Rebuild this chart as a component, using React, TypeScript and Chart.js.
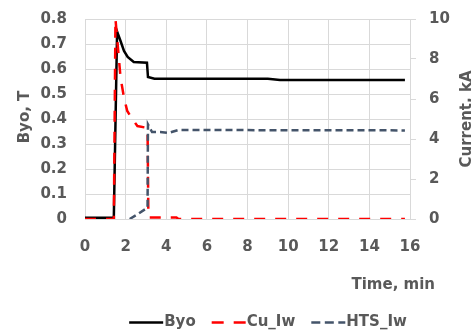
import React, { useEffect, useRef } from "react";
import { Chart, registerables } from "chart.js";

Chart.register(...registerables);

// ---- data ----
const xTicks = [0, 2, 4, 6, 8, 10, 12, 14, 16];
const leftTickMax = 0.8;
const rightTickMax = 10;

const byoTime = [0, 1.4, 1.42, 1.58, 1.75, 1.92, 2.1, 2.4, 3.05, 3.1, 3.42, 9.0, 9.6, 15.75];
const byoValues = [0.005, 0.005, 0.01, 0.75, 0.712, 0.672, 0.648, 0.628, 0.625, 0.568, 0.561, 0.561, 0.556, 0.556];

const cuTime = [0, 1.42, 1.5, 1.75, 1.92, 2.08, 2.33, 2.58, 3.08, 3.12, 4.5, 4.6, 15.75];
const cuValues = [0, 0, 10.0, 7.07, 6.07, 5.4, 5.0, 4.65, 4.55, 0.08, 0.08, 0, 0];

const htsTime = [2.2, 2.58, 3.08, 3.1, 3.3, 3.7, 4.1, 4.6, 15.75];
const htsValues = [0, 0.23, 0.57, 4.73, 4.35, 4.35, 4.3, 4.45, 4.43];

const seriesLabels = ["Byo", "Cu_Iw", "HTS_Iw"];
const xTitle = "Time, min";
const leftTitle = "Byo, T";
const rightTitle = "Current, kA";

const TEXT = "#595959";
const GRID = "#D9D9D9";
const FONT_FAMILY = '"DejaVu Sans", sans-serif';

const zip = (xs: number[], ys: number[]) => xs.map((x, i) => ({ x, y: ys[i] }));

const noPad = (s: any) => {
  s.paddingTop = 0;
  s.paddingBottom = 0;
  s.paddingLeft = 0;
  s.paddingRight = 0;
};

const overlayPlugin = {
  id: "overlay",
  afterDraw(chart: any) {
    const { ctx, chartArea } = chart;
    ctx.save();
    ctx.fillStyle = TEXT;
    ctx.font = `700 15px ${FONT_FAMILY}`;
    // left title
    ctx.save();
    ctx.translate(25, 117);
    ctx.rotate(-Math.PI / 2);
    ctx.textAlign = "center";
    ctx.textBaseline = "middle";
    ctx.fillText(leftTitle, 0, 0);
    ctx.restore();
    // right title
    ctx.save();
    ctx.translate(chartArea.right + 57, 119);
    ctx.rotate(-Math.PI / 2);
    ctx.textAlign = "center";
    ctx.textBaseline = "middle";
    ctx.fillText(rightTitle, 0, 0);
    ctx.restore();
    // x title
    ctx.textAlign = "right";
    ctx.textBaseline = "middle";
    ctx.fillText(xTitle, chartArea.right + 25, 285);

    // legend
    const lineW = 34;
    const gapText = 1;
    const gapItem = 16;
    const items = chart.data.datasets.map((ds: any) => ({
      ds,
      tw: ctx.measureText(ds.label).width,
    }));
    const total =
      items.reduce((s: number, it: any) => s + lineW + gapText + it.tw, 0) +
      gapItem * (items.length - 1);
    let x = 268 - total / 2;
    const y = 322.5;
    items.forEach((it: any) => {
      ctx.save();
      ctx.strokeStyle = it.ds.borderColor;
      ctx.lineWidth = it.ds.borderWidth;
      ctx.setLineDash(it.ds.legendDash || []);
      ctx.beginPath();
      ctx.moveTo(x, y);
      ctx.lineTo(x + lineW, y);
      ctx.stroke();
      ctx.restore();
      x += lineW + gapText;
      ctx.textAlign = "left";
      ctx.textBaseline = "middle";
      ctx.fillStyle = TEXT;
      ctx.fillText(it.ds.label, x, y);
      x += it.tw + gapItem;
    });
    ctx.restore();
  },
};

export default function App() {
  const ref = useRef<HTMLCanvasElement | null>(null);
  useEffect(() => {
    document.body.style.margin = "0";
    const canvas = ref.current!;
    const chart = new Chart(canvas, {
      type: "line",
      data: {
        datasets: [
          {
            label: seriesLabels[0],
            data: zip(byoTime, byoValues),
            yAxisID: "y",
            borderColor: "#000000",
            backgroundColor: "#000000",
            borderWidth: 2.5,
            pointRadius: 0,
            order: 3,
          } as any,
          {
            label: seriesLabels[1],
            data: zip(cuTime, cuValues),
            yAxisID: "y1",
            borderColor: "#FF0000",
            backgroundColor: "#FF0000",
            borderWidth: 2.5,
            borderDash: [11, 10],
            legendDash: [12, 10],
            pointRadius: 0,
            order: 2,
          },
          {
            label: seriesLabels[2],
            data: zip(htsTime, htsValues),
            yAxisID: "y1",
            borderColor: "#44546A",
            backgroundColor: "#44546A",
            borderWidth: 2.5,
            borderDash: [7, 4],
            legendDash: [9, 4.5],
            pointRadius: 0,
            order: 1,
          },
        ],
      },
      options: {
        responsive: false,
        animation: false,
        events: [],
        layout: { padding: { top: 19, left: 0, right: 0, bottom: 0 } },
        plugins: {
          legend: { display: false },
          tooltip: { enabled: false },
        },
        scales: {
          x: {
            type: "linear",
            min: 0,
            max: 16,
            afterBuildTicks: (s: any) => {
              s.ticks = xTicks.map((v) => ({ value: v }));
            },
            afterFit: (s: any) => {
              s.height = 112;
              noPad(s);
            },
            grid: { color: GRID, lineWidth: 1, drawTicks: false },
            border: { display: true, color: GRID },
            ticks: {
              color: TEXT,
              font: { family: FONT_FAMILY, size: 15, weight: "bold" },
              padding: 19,
              maxRotation: 0,
            },
          },
          y: {
            position: "left",
            min: 0,
            max: leftTickMax,
            afterFit: (s: any) => {
              s.width = 85;
              noPad(s);
            },
            grid: { color: GRID, lineWidth: 1, drawTicks: false },
            border: { display: true, color: GRID },
            ticks: {
              stepSize: 0.1,
              color: TEXT,
              font: { family: FONT_FAMILY, size: 15, weight: "bold" },
              padding: 18,
            },
          },
          y1: {
            position: "right",
            min: 0,
            max: rightTickMax,
            afterFit: (s: any) => {
              s.width = 61;
              noPad(s);
            },
            grid: {
              drawOnChartArea: false,
              color: GRID,
              drawTicks: true,
              tickLength: 6,
            },
            border: { display: true, color: GRID },
            ticks: {
              stepSize: 2,
              color: TEXT,
              font: { family: FONT_FAMILY, size: 15, weight: "bold" },
              padding: 13,
            },
          },
        },
      },
      plugins: [overlayPlugin],
    } as any);
    return () => chart.destroy();
  }, []);
  return (
    <div style={{ width: 471, height: 331 }}>
      <canvas ref={ref} width={471} height={331} style={{ display: "block" }} />
    </div>
  );
}
